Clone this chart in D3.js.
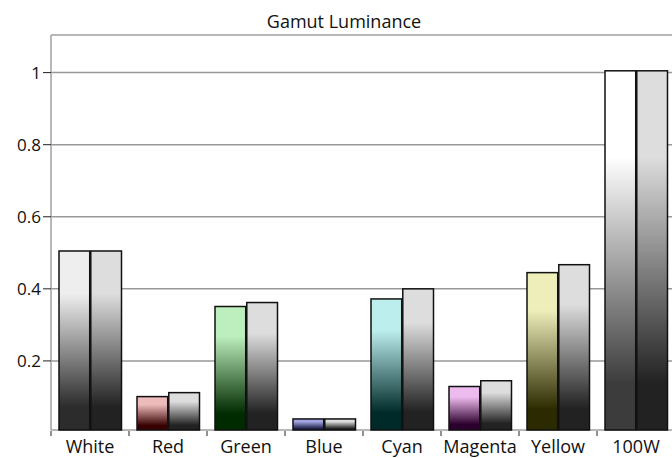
<!DOCTYPE html>
<html>
<head>
<meta charset="utf-8">
<script src="https://cdn.jsdelivr.net/npm/d3@7"></script>
<style>
  body { margin: 0; background: #fff; overflow: hidden; }
  svg { display: block; font-family: 'Open Sans', Lato, sans-serif; }
</style>
</head>
<body>
<div id="chart"></div>
<script>
// data
let categories = ['White', 'Red', 'Green', 'Blue', 'Cyan', 'Magenta', 'Yellow', '100W']
let measured = [0.505, 0.101, 0.351, 0.039, 0.372, 0.129, 0.445, 1.005]
let reference = [0.505, 0.112, 0.362, 0.039, 0.400, 0.145, 0.467, 1.005]
let yTicks = [0.2, 0.4, 0.6, 0.8, 1]

// gradient colours for the first bar of each group (top, bottom)
let topColors = ['#eeeeee', '#eebbbb', '#bdeebd', '#a4a4e0', '#bdeeee', '#eebbee', '#eeeebb', '#ffffff']
let bottomColors = ['#2c2c2c', '#360000', '#002a00', '#20204a', '#002a2a', '#2c002c', '#2c2a00', '#3c3c3c']

let width = 672
let height = 458
let plot = { left: 51, right: 675, top: 35, bottom: 430 }

let svg = d3
  .select('#chart')
  .append('svg')
  .attr('width', width)
  .attr('height', height)

let defs = svg.append('defs')

function addGradient(id, top, bottom) {
  let g = defs
    .append('linearGradient')
    .attr('id', id)
    .attr('x1', 0)
    .attr('y1', 0)
    .attr('x2', 0)
    .attr('y2', 1)
  g.append('stop').attr('offset', 0).attr('stop-color', top)
  g.append('stop').attr('offset', 0.24).attr('stop-color', top)
  g.append('stop').attr('offset', 0.87).attr('stop-color', bottom)
  g.append('stop').attr('offset', 1).attr('stop-color', bottom)
}

categories.forEach((c, i) => addGradient('grad-a-' + i, topColors[i], bottomColors[i]))
addGradient('grad-b', '#dddddd', '#222222')

let xPositionScale = d3
  .scaleBand()
  .domain(categories)
  .range([plot.left, plot.right])

let subScale = d3
  .scaleBand()
  .domain([0, 1])
  .range([8, 70.5])
  .paddingInner(0.033)

let yPositionScale = d3.scaleLinear().domain([0, 1]).range([433, 72.6])

// frame
svg
  .append('line')
  .attr('x1', plot.left)
  .attr('x2', width)
  .attr('y1', plot.top)
  .attr('y2', plot.top)
  .attr('stroke', '#a0a0a0')
  .attr('stroke-width', 1.5)

// grid lines
svg
  .selectAll('.grid')
  .data(yTicks)
  .enter()
  .append('line')
  .attr('class', 'grid')
  .attr('x1', plot.left)
  .attr('x2', width)
  .attr('y1', d => yPositionScale(d))
  .attr('y2', d => yPositionScale(d))
  .attr('stroke', '#999')
  .attr('stroke-width', 1.5)

svg
  .append('line')
  .attr('x1', plot.left)
  .attr('x2', plot.left)
  .attr('y1', plot.top)
  .attr('y2', plot.bottom)
  .attr('stroke', '#a0a0a0')
  .attr('stroke-width', 1.5)

svg
  .append('line')
  .attr('x1', plot.left)
  .attr('x2', width)
  .attr('y1', plot.bottom)
  .attr('y2', plot.bottom)
  .attr('stroke', '#a0a0a0')
  .attr('stroke-width', 1.5)

// bars
let groups = svg
  .selectAll('.group')
  .data(categories)
  .enter()
  .append('g')
  .attr('class', 'group')
  .attr('transform', d => 'translate(' + xPositionScale(d) + ',0)')

groups
  .append('rect')
  .attr('x', subScale(0))
  .attr('width', subScale.bandwidth())
  .attr('y', (d, i) => yPositionScale(measured[i]))
  .attr('height', (d, i) => plot.bottom - yPositionScale(measured[i]))
  .attr('fill', (d, i) => 'url(#grad-a-' + i + ')')
  .attr('stroke', '#111')
  .attr('stroke-width', 1.5)

groups
  .append('rect')
  .attr('x', subScale(1))
  .attr('width', subScale.bandwidth())
  .attr('y', (d, i) => yPositionScale(reference[i]))
  .attr('height', (d, i) => plot.bottom - yPositionScale(reference[i]))
  .attr('fill', 'url(#grad-b)')
  .attr('stroke', '#111')
  .attr('stroke-width', 1.5)

// y axis ticks and labels
let yAxis = svg.append('g').attr('class', 'y-axis')
yAxis
  .selectAll('line')
  .data(yTicks)
  .enter()
  .append('line')
  .attr('x1', plot.left - 8)
  .attr('x2', plot.left)
  .attr('y1', d => yPositionScale(d))
  .attr('y2', d => yPositionScale(d))
  .attr('stroke', '#222')
  .attr('stroke-width', 1)
yAxis
  .selectAll('text')
  .data(yTicks)
  .enter()
  .append('text')
  .attr('x', plot.left - 10)
  .attr('y', d => yPositionScale(d))
  .attr('dy', '0.36em')
  .attr('text-anchor', 'end')
  .attr('font-size', 17)
  .attr('fill', '#111')
  .text(d => d3.format('~g')(d))

// x axis ticks and labels
let xAxis = svg.append('g').attr('class', 'x-axis')
xAxis
  .selectAll('line')
  .data(categories)
  .enter()
  .append('line')
  .attr('x1', d => xPositionScale(d))
  .attr('x2', d => xPositionScale(d))
  .attr('y1', plot.bottom + 1)
  .attr('y2', plot.bottom + 6)
  .attr('stroke', '#222')
  .attr('stroke-width', 1)
xAxis
  .selectAll('text')
  .data(categories)
  .enter()
  .append('text')
  .attr('x', d => xPositionScale(d) + xPositionScale.bandwidth() / 2)
  .attr('y', 453)
  .attr('text-anchor', 'middle')
  .attr('font-size', 18)
  .attr('fill', '#111')
  .text(d => d)

// title
svg
  .append('text')
  .attr('x', 344)
  .attr('y', 28)
  .attr('text-anchor', 'middle')
  .attr('font-size', 18)
  .attr('fill', '#111')
  .text('Gamut Luminance')
</script>
</body>
</html>
